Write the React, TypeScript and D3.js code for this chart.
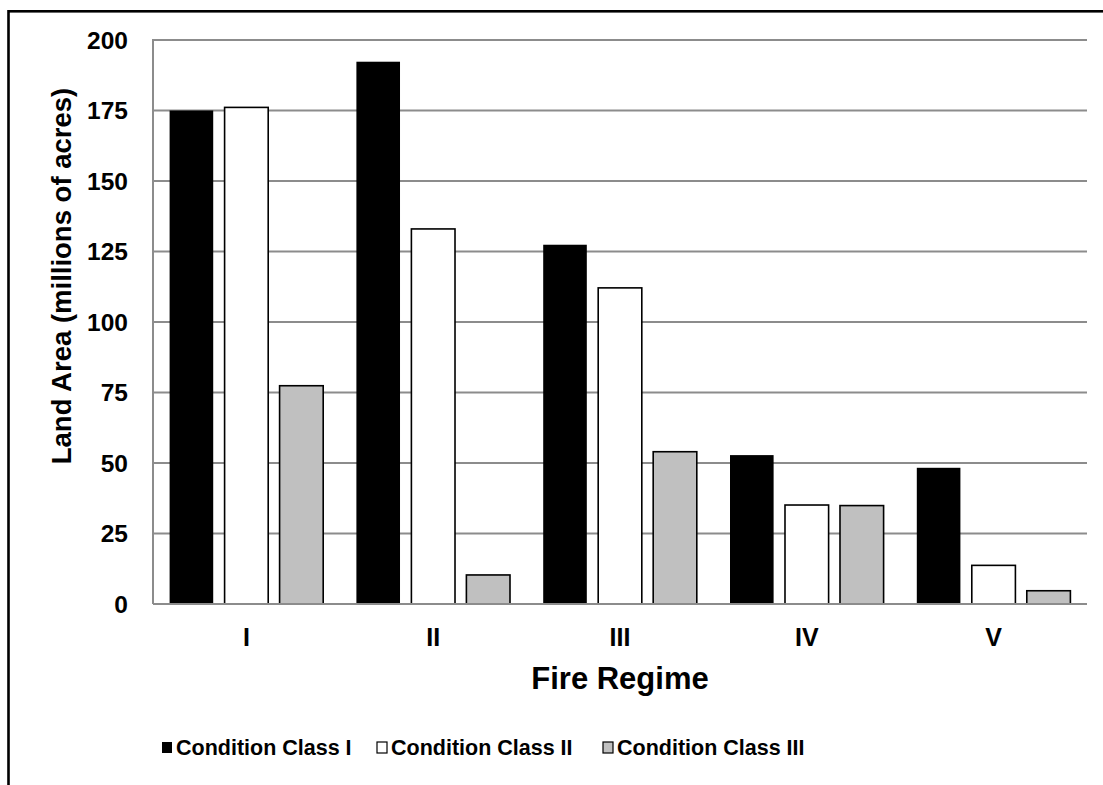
import React from "react";
import * as d3 from "d3";

const categories = ["I", "II", "III", "IV", "V"];
const seriesNames = ["Condition Class I", "Condition Class II", "Condition Class III"];
const classI = [175, 192.3, 127.4, 52.8, 48.3];
const classII = [176.1, 133, 112.1, 35.1, 13.7];
const classIII = [77.4, 10.3, 54, 34.9, 4.7];
const yTicks = [0, 25, 50, 75, 100, 125, 150, 175, 200];

const fills = ["#000000", "#ffffff", "#c0c0c0"];
const FONT = "Arial, 'Liberation Sans', sans-serif";

export default function App() {
  const W = 1103, H = 785;
  const left = 153, right = 1087, top = 40, bottom = 604;
  const series = [classI, classII, classIII];

  const x0 = d3.scaleBand<string>().domain(categories).range([left, right]).paddingInner(0).paddingOuter(0);
  const inner = 16.6;
  const x1 = d3.scaleBand<number>().domain([0, 1, 2]).range([inner, x0.bandwidth() - inner]).paddingInner(0.207).paddingOuter(0);
  const y = d3.scaleLinear().domain([0, 200]).range([bottom, top]);

  const legendX = [162, 377, 603];

  return (
    <svg width={W} height={H} style={{ position: "absolute", left: 0, top: 0, background: "#fff" }} fontFamily={FONT}>
      <rect x={0} y={0} width={W} height={H} fill="#fff" />
      <rect x={8.5} y={11.3} width={1300} height={1000} fill="none" stroke="#000" strokeWidth={2.6} />
      {yTicks.filter((t) => t > 0).map((t) => (
        <line key={t} x1={left} x2={right} y1={y(t)} y2={y(t)} stroke="#8c8c8c" strokeWidth={2} />
      ))}
      <line x1={left} x2={left} y1={top - 1} y2={bottom} stroke="#8c8c8c" strokeWidth={2} />
      {categories.map((c, i) => (
        <g key={c} transform={`translate(${x0(c)},0)`}>
          {series.map((s, k) => (
            <rect
              key={k}
              x={x1(k)}
              y={y(s[i])}
              width={x1.bandwidth()}
              height={y(0) - y(s[i])}
              fill={fills[k]}
              stroke="#000"
              strokeWidth={k === 0 ? 0 : 1.6}
            />
          ))}
        </g>
      ))}
      <line x1={left} x2={right} y1={bottom} y2={bottom} stroke="#8c8c8c" strokeWidth={2} />
      {yTicks.map((t) => (
        <text key={t} x={128} y={y(t)} textAnchor="end" dominantBaseline="central" fontSize={24.5} fontWeight="bold">
          {t}
        </text>
      ))}
      {categories.map((c) => (
        <text key={c} x={(x0(c) as number) + x0.bandwidth() / 2} y={637} textAnchor="middle" dominantBaseline="central" fontSize={25} fontWeight="bold">
          {c}
        </text>
      ))}
      <text x={(left + right) / 2} y={678} textAnchor="middle" dominantBaseline="central" fontSize={31} fontWeight="bold">
        Fire Regime
      </text>
      <text transform={`translate(61,276) rotate(-90)`} textAnchor="middle" dominantBaseline="central" fontSize={27.5} fontWeight="bold">
        Land Area (millions of acres)
      </text>
      {seriesNames.map((n, k) => (
        <g key={n}>
          <rect x={legendX[k]} y={742} width={10} height={11} fill={fills[k]} stroke="#000" strokeWidth={k === 0 ? 0 : 1.2} />
          <text x={legendX[k] + 14} y={748} dominantBaseline="central" fontSize={21.5} fontWeight="bold">
            {n}
          </text>
        </g>
      ))}
    </svg>
  );
}
